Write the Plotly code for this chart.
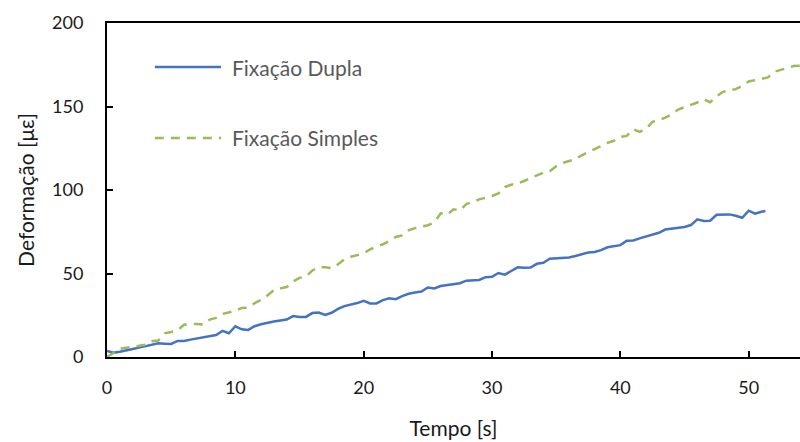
import plotly.graph_objects as go

# Fixação Dupla (blue, solid)
t_dupla = [0, 0.5, 1.0, 1.5, 2.0, 2.5, 3.0, 3.5, 4.0, 4.5, 5.0, 5.5, 6.0, 6.5, 7.0, 7.5, 8.0, 8.5, 9.0, 9.5,
           10.0, 10.5, 11.0, 11.5, 12.0, 12.5, 13.0, 13.5, 14.0, 14.5, 15.0, 15.5, 16.0, 16.5, 17.0, 17.5, 18.0, 18.5, 19.0, 19.5,
           20.0, 20.5, 21.0, 21.5, 22.0, 22.5, 23.0, 23.5, 24.0, 24.5, 25.0, 25.5, 26.0, 26.5, 27.0, 27.5, 28.0, 28.5, 29.0, 29.5,
           30.0, 30.5, 31.0, 31.5, 32.0, 32.5, 33.0, 33.5, 34.0, 34.5, 35.0, 35.5, 36.0, 36.5, 37.0, 37.5, 38.0, 38.5, 39.0, 39.5,
           40.0, 40.5, 41.0, 41.5, 42.0, 42.5, 43.0, 43.5, 44.0, 44.5, 45.0, 45.5, 46.0, 46.5, 47.0, 47.5, 48.0, 48.5, 49.0, 49.5,
           50.0, 50.5, 51.0, 51.3]
y_dupla = [3.6, 2.6, 3.2, 4.2, 4.8, 5.6, 6.6, 7.6, 8.2, 8.0, 7.8, 9.6, 9.6, 10.4, 11.2, 11.8, 12.8, 13.2, 15.6, 14.2,
           18.4, 16.6, 16.2, 18.4, 19.6, 20.6, 21.2, 21.8, 22.4, 24.5, 24.0, 24.0, 26.3, 26.6, 25.2, 26.5, 28.8, 30.5, 31.2, 32.3,
           33.6, 32.1, 32.1, 34.1, 35.1, 34.6, 36.5, 37.9, 38.6, 39.2, 41.6, 41.0, 42.5, 43.0, 43.4, 44.2, 45.7, 45.9, 46.1, 47.8,
           48.0, 50.3, 49.3, 51.5, 53.7, 53.5, 53.6, 55.8, 56.4, 58.9, 59.0, 59.2, 59.6, 60.5, 61.4, 62.6, 62.9, 64.0, 65.7, 66.2,
           67.0, 69.6, 69.8, 71.0, 72.2, 73.6, 74.4, 76.3, 76.9, 77.4, 77.9, 79.0, 82.4, 81.4, 81.6, 85.2, 85.4, 85.4, 84.6, 83.4,
           87.6, 85.8, 87.0, 87.4]

# Fixação Simples (green, dashed)
t_simples = [0, 0.5, 1.0, 1.5, 2.0, 2.5, 3.0, 3.5, 4.0, 4.5, 5.0, 5.5, 6.0, 6.5, 7.0, 7.5, 8.0, 8.5, 9.0, 9.5,
             10.0, 10.5, 11.0, 11.5, 12.0, 12.5, 13.0, 13.5, 14.0, 14.5, 15.0, 15.5, 16.0, 16.5, 17.0, 17.5, 18.0, 18.5, 19.0, 19.5,
             20.0, 20.5, 21.0, 21.5, 22.0, 22.5, 23.0, 23.5, 24.0, 24.5, 25.0, 25.5, 26.0, 26.5, 27.0, 27.5, 28.0, 28.5, 29.0, 29.5,
             30.0, 30.5, 31.0, 31.5, 32.0, 32.5, 33.0, 33.5, 34.0, 34.5, 35.0, 35.5, 36.0, 36.5, 37.0, 37.5, 38.0, 38.5, 39.0, 39.5,
             40.0, 40.5, 41.0, 41.5, 42.0, 42.5, 43.0, 43.5, 44.0, 44.5, 45.0, 45.5, 46.0, 46.5, 47.0, 47.5, 48.0, 48.5, 49.0, 49.5,
             50.0, 50.5, 51.0, 51.5, 52.0, 52.5, 53.0, 53.5, 54.0]
y_simples = [0, 2.5, 4.8, 5.6, 6.0, 6.7, 7.4, 9.4, 9.9, 14.2, 15.0, 16.0, 19.3, 19.8, 19.8, 19.4, 22.4, 23.4, 25.8, 26.8,
             27.6, 29.4, 29.6, 32.2, 34.2, 36.8, 40.0, 41.1, 41.9, 45.2, 47.4, 48.2, 51.8, 53.6, 53.8, 53.2, 55.5, 58.5, 60.0, 61.0,
             62.0, 64.5, 65.8, 67.5, 69.5, 71.9, 72.8, 75.8, 77.2, 78.2, 78.9, 80.5, 86.0, 85.2, 88.4, 87.8, 91.6, 92.8, 94.4, 95.4,
             96.4, 98.0, 101.8, 103.2, 103.8, 105.4, 107.0, 109.0, 110.4, 111.2, 114.2, 116.2, 117.3, 118.5, 120.8, 122.6, 124.2, 126.0, 128.2, 129.5,
             131.8, 132.4, 136.4, 134.8, 136.6, 140.8, 141.6, 143.4, 145.2, 148.2, 149.4, 151.0, 152.4, 154.3, 152.6, 156.0, 158.8, 159.4, 160.4, 162.4,
             165.0, 165.8, 166.6, 167.4, 170.8, 172.0, 173.2, 174.2, 174.4]

x_ticks = [0, 10, 20, 30, 40, 50]
y_ticks = [0, 50, 100, 150, 200]
series_names = ["Fixação Dupla", "Fixação Simples"]

BLUE = "#4472C4"
GREEN = "#9BBB59"
DASH = "9px,7px"
FONT = "Lato, 'Open Sans', sans-serif"
TXT = "#1a1a1a"

fig = go.Figure()
fig.add_trace(go.Scatter(x=t_dupla, y=y_dupla, mode="lines", name=series_names[0],
                         line=dict(color=BLUE, width=2.5), showlegend=False))
fig.add_trace(go.Scatter(x=t_simples, y=y_simples, mode="lines", name=series_names[1],
                         line=dict(color=GREEN, width=2.5, dash=DASH), showlegend=False))

# manual legend (paper coords)
leg = [(0.868, BLUE, "solid", series_names[0]), (0.656, GREEN, DASH, series_names[1])]
for yp, col, dsh, name in leg:
    fig.add_shape(type="line", xref="paper", yref="paper", x0=0.069, x1=0.1645, y0=yp, y1=yp,
                  line=dict(color=col, width=2.5, dash=dsh))
    fig.add_annotation(xref="paper", yref="paper", x=0.1775, y=yp, text=name, showarrow=False,
                       xanchor="left", yanchor="middle", font=dict(family=FONT, size=21, color="#595959"))

fig.update_layout(
    width=800, height=442,
    margin=dict(l=107, r=0, t=23, b=85),
    paper_bgcolor="white", plot_bgcolor="white",
    font=dict(family=FONT, size=18, color=TXT),
)
fig.update_xaxes(range=[0, 54], tickvals=x_ticks, ticks="inside", ticklen=6, tickwidth=1.5, tickcolor="black",
                 showline=True, linecolor="black", linewidth=2, mirror=True, showgrid=False, zeroline=False,
                 ticklabelstandoff=13,
                 title=dict(text="Tempo [s]", font=dict(family=FONT, size=21, color=TXT), standoff=25))
fig.update_yaxes(range=[0, 200], tickvals=y_ticks, ticks="inside", ticklen=6, tickwidth=1.5, tickcolor="black",
                 showline=True, linecolor="black", linewidth=2, showgrid=False, zeroline=False,
                 ticklabelstandoff=18,
                 title=dict(text="Deformação [με]", font=dict(family=FONT, size=21, color=TXT), standoff=12))

fig.write_html("out.html")
